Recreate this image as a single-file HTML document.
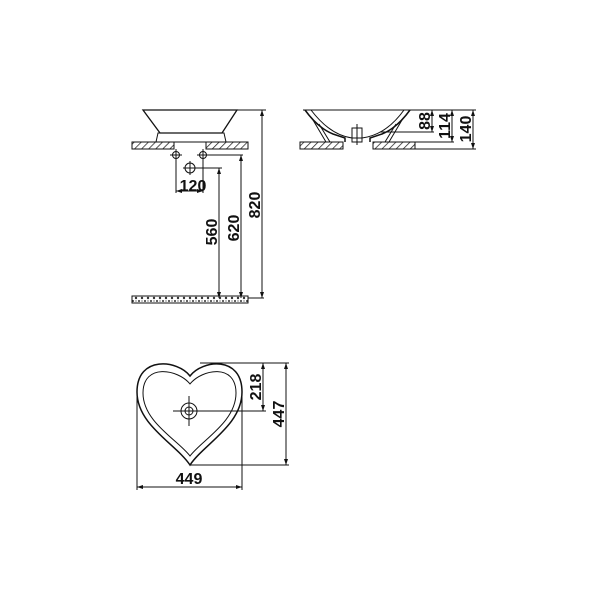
<!DOCTYPE html><html><head><style>body{margin:0;background:#fff}svg{display:block}text{font-family:"Liberation Sans Narrow","Liberation Sans",sans-serif;font-weight:bold;font-size:16px;fill:#111}</style></head><body>
<svg width="600" height="600" viewBox="0 0 600 600">
<defs><pattern id="h" width="5" height="5" patternUnits="userSpaceOnUse" patternTransform="rotate(45)"><rect width="5" height="5" fill="#fff"/><line x1="0" y1="0" x2="0" y2="5" stroke="#222" stroke-width="1.5"/></pattern>
<pattern id="g" width="6" height="6" patternUnits="userSpaceOnUse"><rect width="6" height="6" fill="#fff"/><circle cx="1" cy="1" r="1" fill="#333"/><circle cx="4" cy="4" r="1.2" fill="#333"/><circle cx="4" cy="1" r=".6" fill="#333"/></pattern>
<marker id="a" markerWidth="6" markerHeight="6" refX="6" refY="3" orient="auto-start-reverse" markerUnits="userSpaceOnUse"><path d="M0,1 L6,3 L0,5Z" fill="#111"/></marker></defs>
<g stroke="#111" fill="none" stroke-width="1">
<path d="M143,110 L237,110 L222,133 L160,133 Z" stroke-width="1.3"/>
<path d="M158,133 L224,133 L226,142 L156,142 Z"/>
<line x1="237" y1="110" x2="266" y2="110"/>
<rect x="132" y="142" width="42" height="7" fill="url(#h)"/>
<rect x="206" y="142" width="42" height="7" fill="url(#h)"/>
<rect x="132" y="296" width="116" height="7" fill="url(#g)"/>
<circle cx="176" cy="155" r="3.5"/><line x1="170" y1="155" x2="182" y2="155"/><line x1="176" y1="149" x2="176" y2="193"/>
<circle cx="203" cy="155" r="3.5"/><line x1="197" y1="155" x2="209" y2="155"/><line x1="203" y1="149" x2="203" y2="193"/>
<circle cx="190" cy="168" r="5"/><line x1="183" y1="168" x2="197" y2="168"/><line x1="190" y1="161" x2="190" y2="175"/>
<line x1="176" y1="191" x2="203" y2="191" marker-start="url(#a)" marker-end="url(#a)"/>
<polyline points="203,155 243,155"/><polyline points="195,168 222,168"/>
<line x1="219" y1="168" x2="219" y2="298" marker-start="url(#a)" marker-end="url(#a)"/>
<line x1="241" y1="155" x2="241" y2="298" marker-start="url(#a)" marker-end="url(#a)"/>
<line x1="262" y1="110" x2="262" y2="298" marker-start="url(#a)" marker-end="url(#a)"/>
<line x1="248" y1="298" x2="264" y2="298"/>
<line x1="303" y1="110" x2="476" y2="110"/>
<path d="M305,110 Q318,128 333,134 L345,138 L345,142 M410,110 Q397,128 382,134 L370,138 L370,142" stroke-width="1.5"/>
<path d="M311,110 Q330,135 352,138 L362,138 Q386,135 404,110"/>
<path d="M313,120 L326,142 M319,124 L330,142 M402,120 L389,142 M396,124 L385,142"/>
<rect x="352" y="128" width="10" height="14"/><line x1="357" y1="124" x2="357" y2="145"/>
<rect x="300" y="142" width="43" height="7" fill="url(#h)"/>
<rect x="373" y="142" width="42" height="7" fill="url(#h)"/>
<line x1="380" y1="132" x2="434" y2="132"/>
<line x1="415" y1="142" x2="454" y2="142"/>
<line x1="415" y1="149" x2="476" y2="149"/>
<line x1="432" y1="110" x2="432" y2="132" marker-start="url(#a)" marker-end="url(#a)"/>
<line x1="452" y1="110" x2="452" y2="142" marker-start="url(#a)" marker-end="url(#a)"/>
<line x1="473" y1="110" x2="473" y2="149" marker-start="url(#a)" marker-end="url(#a)"/>
<path d="M190,376 C178,360 137,355 137,392 C137,425 176,444 190,465 C204,444 242,425 242,392 C242,355 202,360 190,376Z" stroke-width="1.5"/>
<path d="M190,384 C178,369 143,363 143,393 C143,422 178,440 190,456 C202,440 236,422 236,393 C236,363 202,369 190,384Z"/>
<circle cx="189" cy="411" r="8"/><circle cx="189" cy="411" r="4"/>
<line x1="173" y1="411" x2="266" y2="411"/><line x1="189" y1="396" x2="189" y2="426"/>
<line x1="200" y1="363" x2="289" y2="363"/><line x1="190" y1="465" x2="289" y2="465"/>
<line x1="263" y1="363" x2="263" y2="411" marker-start="url(#a)" marker-end="url(#a)"/>
<line x1="286" y1="363" x2="286" y2="465" marker-start="url(#a)" marker-end="url(#a)"/>
<line x1="137" y1="392" x2="137" y2="490"/><line x1="242" y1="392" x2="242" y2="490"/>
<line x1="137" y1="487" x2="242" y2="487" marker-start="url(#a)" marker-end="url(#a)"/>
</g>
<text x="193" y="191" text-anchor="middle">120</text>
<text transform="translate(217,232) rotate(-90)" text-anchor="middle">560</text>
<text transform="translate(239,228) rotate(-90)" text-anchor="middle">620</text>
<text transform="translate(260,205) rotate(-90)" text-anchor="middle">820</text>
<text transform="translate(430,121) rotate(-90)" text-anchor="middle">88</text>
<text transform="translate(450,126) rotate(-90)" text-anchor="middle">114</text>
<text transform="translate(471,129) rotate(-90)" text-anchor="middle">140</text>
<text transform="translate(261,387) rotate(-90)" text-anchor="middle">218</text>
<text transform="translate(284,414) rotate(-90)" text-anchor="middle">447</text>
<text x="189" y="484" text-anchor="middle">449</text>
</svg></body></html>
